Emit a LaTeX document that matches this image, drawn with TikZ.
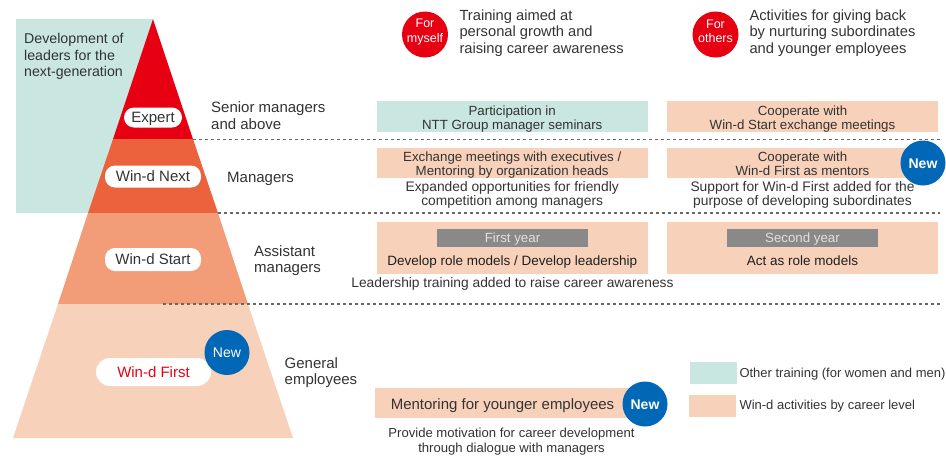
\documentclass[tikz,border=0pt]{standalone}
\usepackage{fontspec}
\setmainfont{Liberation Sans}
\definecolor{tealbg}{HTML}{CAE6E0}
\definecolor{redA}{HTML}{E60012}
\definecolor{orB}{HTML}{EB623C}
\definecolor{orC}{HTML}{F29C78}
\definecolor{orD}{HTML}{F8D1BA}
\definecolor{newblue}{HTML}{0068B7}
\definecolor{txt}{HTML}{333333}
\definecolor{bargray}{HTML}{898989}
\definecolor{dashgray}{HTML}{666666}
\newcommand{\tstrut}{\rule{0pt}{12pt}}
\tikzset{
  boxfill/.style={fill=orD, minimum width=271pt},
  tealfill/.style={fill=tealbg, minimum width=271pt},
  boxtext/.style={anchor=north, align=center, font=\fontsize{13.3}{12.3}\selectfont},
  note/.style={anchor=north, align=center, font=\fontsize{13.8}{13.4}\selectfont},
  pill/.style={fill=white, rounded corners=10pt, text height=10.7pt, text depth=0pt, font=\fontsize{15}{17}\selectfont},
  newdot/.style={circle, fill=newblue, minimum size=45pt, text=white, text height=10pt, text depth=0pt, font=\fontsize{14}{16}\selectfont},
  reddot/.style={circle, fill=redA, minimum size=46pt},
  redtext/.style={anchor=north, text=white, align=center, font=\fontsize{12.5}{14.4}\selectfont},
  dashline/.style={draw=dashgray, line width=1.1pt, dash pattern=on 3pt off 3pt},
  lvl/.style={anchor=north west, align=left, font=\fontsize{15}{16.3}\selectfont},
  ybar/.style={fill=bargray, minimum width=151.6pt, minimum height=17.7pt},
  legtext/.style={anchor=north west, align=left, font=\fontsize{14.7}{16.5}\selectfont},
}
\begin{document}
\begin{tikzpicture}[x=1pt,y=-1pt, every node/.style={text=txt, inner sep=0pt}]
\useasboundingbox (0,0) rectangle (946,456);
% teal background
\fill[tealbg] (16,19) rectangle (153,213);
\node[anchor=north west, align=left, font=\fontsize{14.2}{16.5}\selectfont] (title) at (24,31.5) {\tstrut Development of\\leaders for the\\next-generation};
% pyramid bands
\fill[redA] (153,19) -- (193,139) -- (113,139) -- cycle;
\fill[orB] (113,139) -- (193,139) -- (218,213) -- (88,213) -- cycle;
\fill[orC] (88,213) -- (218,213) -- (248,304) -- (58,304) -- cycle;
\fill[orD] (58,304) -- (248,304) -- (293,438) -- (13,438) -- cycle;
% dashed separators
\draw[dashline] (193,139.3) -- (940,139.3);
\draw[dashline] (218,213) -- (940,213);
\draw[dashline] (163,304) -- (940,304);
% pills
\node[pill, minimum width=58pt, minimum height=20pt] (expert) at (153,117.5) {Expert};
\node[pill, minimum width=96pt, minimum height=22pt] (next) at (153,176.5) {Win-d Next};
\node[pill, minimum width=96pt, minimum height=23pt] (start) at (153,259.5) {Win-d Start};
\node[pill, minimum width=115pt, minimum height=28pt, rounded corners=14pt, text=redA] (first) at (153.5,372) {Win-d First};
\node[newdot] (new1) at (227,352.5) {New};
% level labels
\node[lvl] (l1) at (211,100.7) {\tstrut Senior managers\\and above};
\node[anchor=base west, font=\fontsize{15}{16}\selectfont] (l2) at (227,182.3) {Managers};
\node[lvl] (l3) at (254,244) {\tstrut Assistant\\managers};
\node[lvl] (l4) at (284.5,356.3) {\tstrut General\\employees};
% top legend
\node[reddot] (myself) at (425,34.5) {};
\node[redtext] (myselft) at (425,15.6) {\tstrut For\\myself};
\node[legtext] (tmyself) at (459.3,8) {\tstrut Training aimed at\\personal growth and\\raising career awareness};
\node[reddot] (others) at (715.5,34.5) {};
\node[redtext] (otherst) at (715.5,15.8) {\tstrut For\\others};
\node[legtext] (tothers) at (749.3,8) {\tstrut Activities for giving back\\by nurturing subordinates\\and younger employees};
% row 1
\node[tealfill, minimum height=30.7pt] (r1a) at (512.2,116.3) {};
\node[boxtext, font=\fontsize{13.3}{12}\selectfont] (r1at) at (512.2,103.7) {\tstrut Participation in\\NTT Group manager seminars};
\node[boxfill, minimum height=30.7pt] (r1b) at (802.5,116.3) {};
\node[boxtext, font=\fontsize{13.3}{12}\selectfont] (r1bt) at (802.5,103.7) {\tstrut Cooperate with\\Win-d Start exchange meetings};
% row 2
\node[boxfill, minimum height=30pt] (r2a) at (512.2,163.3) {};
\node[boxtext] (r2at) at (512.2,149.7) {\tstrut Exchange meetings with executives /\\Mentoring by organization heads};
\node[boxfill, minimum height=30pt] (r2b) at (802.5,163.3) {};
\node[boxtext] (r2bt) at (802.5,149.7) {\tstrut Cooperate with\\Win-d First as mentors};
\node[newdot, font=\bfseries\fontsize{14}{16}\selectfont] (new2) at (923,163) {New};
\node[note] (n2a) at (512.2,179.7) {\tstrut Expanded opportunities for friendly\\competition among managers};
\node[note] (n2b) at (802.5,179.7) {\tstrut Support for Win-d First added for the\\purpose of developing subordinates};
% row 3
\node[boxfill, minimum height=52.6pt] (r3a) at (512.2,248) {};
\node[boxfill, minimum height=52.6pt] (r3b) at (802.5,248) {};
\node[ybar] (y1) at (512.5,237.8) {};
\node[anchor=base, text=black!12, font=\fontsize{13.3}{15}\selectfont] (y1t) at (512.5,242.7) {First year};
\node[ybar] (y2) at (802.5,237.8) {};
\node[anchor=base, text=black!12, font=\fontsize{13.3}{15}\selectfont] (y2t) at (802.5,242.7) {Second year};
\node[anchor=base, font=\fontsize{13.5}{15}\selectfont, text=black!88] (d1) at (512.2,265) {Develop role models / Develop leadership};
\node[anchor=base, font=\fontsize{13.5}{15}\selectfont, text=black!88] (d2) at (802.5,265) {Act as role models};
\node[anchor=base, font=\fontsize{13.8}{15}\selectfont] (n3) at (512.5,287.3) {Leadership training added to raise career awareness};
% row 4
\node[fill=orD, minimum width=265pt, minimum height=30pt] (r4) at (507.5,403.3) {};
\node[anchor=base, font=\fontsize{15}{17}\selectfont] (r4t) at (502.5,409.3) {Mentoring for younger employees};
\node[newdot, font=\bfseries\fontsize{14}{16}\selectfont] (new3) at (645,404) {New};
\node[note, font=\fontsize{13.1}{14.8}\selectfont] (n4) at (511.5,425.5) {\tstrut Provide motivation for career development\\through dialogue with managers};
% bottom legend
\node[fill=tealbg, minimum width=46.7pt, minimum height=22pt] (lg1) at (713.3,373.3) {};
\node[anchor=base west, font=\fontsize{13}{15}\selectfont] (lg1t) at (739.3,377.7) {Other training (for women and men)};
\node[fill=orD, minimum width=46.7pt, minimum height=22.3pt] (lg2) at (712.5,406.2) {};
\node[anchor=base west, font=\fontsize{13}{15}\selectfont] (lg2t) at (739.3,409.3) {Win-d activities by career level};
\end{tikzpicture}
\end{document}
